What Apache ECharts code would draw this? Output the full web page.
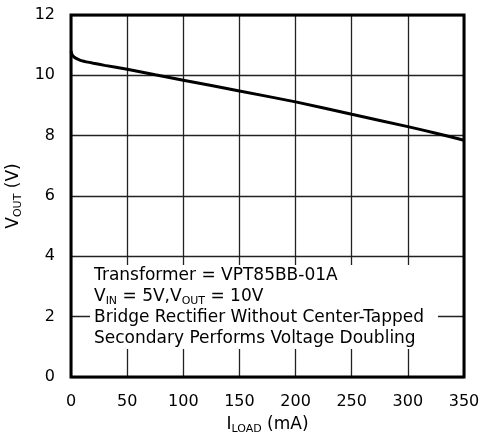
<!DOCTYPE html>
<html>
<head>
<meta charset="utf-8">
<script src="https://cdn.jsdelivr.net/npm/echarts@6/dist/echarts.min.js"></script>
<style>
html,body{margin:0;padding:0;background:#fff;}
#c{width:480px;height:439px;}
</style>
</head>
<body>
<div id="c"></div>
<script>
// Data
const iLoad = [0, 1, 3, 6, 10, 20, 30, 50, 75, 100, 150, 200, 250, 300, 325, 350];
const vOut  = [10.8, 10.68, 10.6, 10.54, 10.48, 10.4, 10.33, 10.2, 10.02, 9.84, 9.48, 9.12, 8.71, 8.30, 8.08, 7.85];
const xTicks = [0, 50, 100, 150, 200, 250, 300, 350];
const yTicks = [0, 2, 4, 6, 8, 10, 12];
const noteLines = [
  'Transformer = VPT85BB-01A',
  'V{sub|IN} = 5V,V{sub|OUT} = 10V',
  'Bridge Rectifier Without Center-Tapped',
  'Secondary Performs Voltage Doubling'
];

const FONT = 'DejaVu Sans';
const chart = echarts.init(document.getElementById('c'));
const subStyle = {fontSize: 11, fontFamily: FONT, color: '#000', verticalAlign: 'bottom', lineHeight: 20, padding: [6, 0, 0, 0]};

chart.setOption({
  animation: false,
  backgroundColor: '#fff',
  grid: {left: 71, right: 16, top: 15, bottom: 62, show: true, borderColor: '#000', borderWidth: 3, z: 5,
         containLabel: false, outerBoundsMode: 'none'},
  xAxis: {
    type: 'value', min: xTicks[0], max: xTicks[xTicks.length - 1], interval: 50,
    axisLine: {show: false}, axisTick: {show: false},
    splitLine: {show: true, lineStyle: {color: '#222', width: 1.3}},
    axisLabel: {fontSize: 16, fontFamily: FONT, color: '#000', margin: 17},
    name: 'I{sub|LOAD} (mA)', nameLocation: 'middle', nameGap: 38,
    nameTextStyle: {fontSize: 17, fontFamily: FONT, color: '#000', rich: {sub: subStyle}}
  },
  yAxis: {
    type: 'value', min: yTicks[0], max: yTicks[yTicks.length - 1], interval: 2,
    axisLine: {show: false}, axisTick: {show: false},
    splitLine: {show: true, lineStyle: {color: '#222', width: 1.3}},
    axisLabel: {fontSize: 16, fontFamily: FONT, color: '#000', margin: 16},
    name: 'V{sub|OUT} (V)', nameLocation: 'middle', nameGap: 38,
    nameTextStyle: {fontSize: 17, fontFamily: FONT, color: '#000', rich: {sub: subStyle}}
  },
  title: {
    text: noteLines.join('\n'),
    left: 90, top: 265,
    backgroundColor: '#fff',
    padding: [0, 14, 0, 4],
    z: 4,
    textStyle: {
      fontSize: 17, fontWeight: 'normal', fontFamily: FONT, color: '#000', lineHeight: 21,
      rich: {sub: {fontSize: 11, fontFamily: FONT, color: '#000', verticalAlign: 'bottom', lineHeight: 21, padding: [6, 0, 0, 0]}}
    }
  },
  series: [{
    type: 'line',
    data: iLoad.map((x, i) => [x, vOut[i]]),
    showSymbol: false,
    smooth: 0.2,
    lineStyle: {color: '#000', width: 3},
    z: 6
  }]
});
</script>
</body>
</html>
